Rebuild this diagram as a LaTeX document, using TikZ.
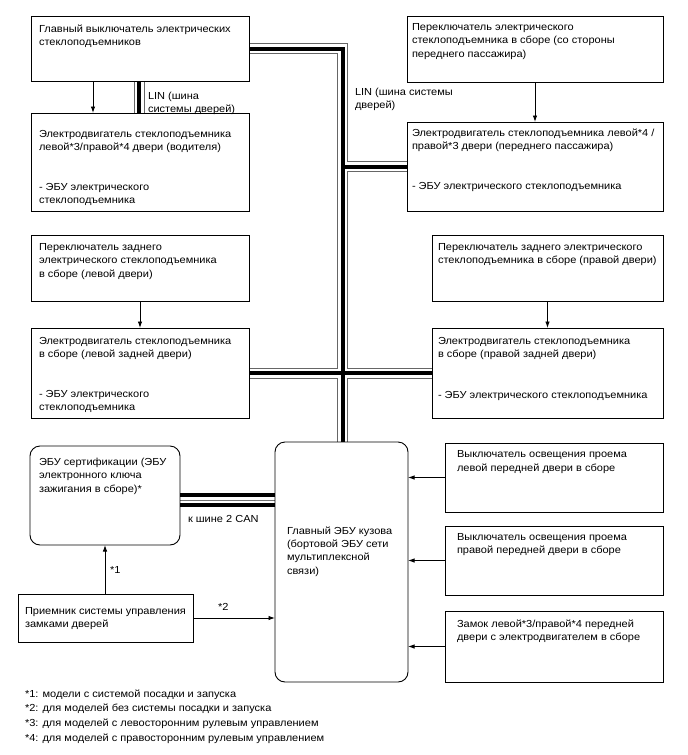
\documentclass[tikz,border=0pt]{standalone}
\usepackage{fontspec}
\setmainfont{Liberation Sans}[FakeStretch=1.08]
\usetikzlibrary{arrows.meta,backgrounds}
\begin{document}
\begin{tikzpicture}[x=1pt,y=-1pt,
  box/.style={draw, line width=0.9pt, inner sep=0pt, outer sep=0pt, anchor=north west},
  rbox/.style={box, rounded corners=10pt},
  txt/.style={anchor=north west, inner sep=0pt, outer sep=0pt, align=left,
    font=\fontsize{10.2}{13.3}\selectfont},
  arr/.style={line width=0.9pt, -{Latex[length=6.5pt,width=4.5pt]}},
  linout/.style={line width=11pt, black!60},
  linwhite/.style={line width=9pt, white},
  lincore/.style={line width=4pt, black},
  canout/.style={line width=13.5pt, black},
  canwhite/.style={line width=6.5pt, white},
  cancore/.style={line width=1pt, black!55},
]
\useasboundingbox (0,0) rectangle (688,755);

% boxes
\node[box, minimum width=218pt, minimum height=65pt] (B1) at (31,16) {};
\node[box, minimum width=218pt, minimum height=98pt] (B2) at (31,113) {};
\node[box, minimum width=256pt, minimum height=66pt] (B3) at (407,16) {};
\node[box, minimum width=256pt, minimum height=89pt] (B4) at (407,122) {};
\node[box, minimum width=218pt, minimum height=66pt] (B5) at (31,235) {};
\node[box, minimum width=218pt, minimum height=90pt] (B6) at (31,328) {};
\node[box, minimum width=231pt, minimum height=66pt] (B7) at (432,235) {};
\node[box, minimum width=231pt, minimum height=90pt] (B8) at (432,328) {};
\node[rbox, minimum width=150pt, minimum height=99pt] (C) at (30,446) {};
\node[rbox, minimum width=133pt, minimum height=240pt] (M) at (275,442) {};
\node[box, minimum width=175pt, minimum height=48pt] (R) at (18,594) {};
\node[box, minimum width=218pt, minimum height=69pt] (DL) at (445,443) {};
\node[box, minimum width=218pt, minimum height=69pt] (DR) at (445,526) {};
\node[box, minimum width=218pt, minimum height=71pt] (LK) at (445,611) {};

\coordinate (J1) at (342.5,48.5);

% buses
\newcommand\linbus[1]{%
  \draw[#1] ([xshift=-1pt]B1.south) -- ([xshift=-1pt]B2.north);
  \draw[#1] (B1.east) -- (J1) -- (J1 |- M.north);
  \draw[#1] (J1 |- B4.west) -- (B4.west);
  \draw[#1] (B6.east) -- (B8.west);
}
\begin{scope}[on background layer]
  \fill[white] (0,0) rectangle (688,755);
  \linbus{linout}
  \linbus{linwhite}
  \linbus{lincore}
  \draw[canout] ([yshift=-4.5pt]C.east) -- ([yshift=-4.5pt]C.east -| M.west);
  \draw[canwhite] ([yshift=-4.5pt]C.east) -- ([yshift=-4.5pt]C.east -| M.west);
  \draw[cancore] ([yshift=-4.5pt]C.east) -- ([yshift=-4.5pt]C.east -| M.west);
\end{scope}

% arrows
\draw[arr] ([xshift=62pt]B1.south west) -- ([xshift=62pt]B2.north west);
\draw[arr] (B3.south) -- (B4.north);
\draw[arr] (B5.south) -- (B6.north);
\draw[arr] (B7.south) -- (B8.north);
\draw[arr] (R.north -| C.south) -- (C.south);
\draw[arr] (R.east) -- (R.east -| M.west);
\draw[arr] (DL.west) -- (DL.west -| M.east);
\draw[arr] (DR.west) -- (DR.west -| M.east);
\draw[arr] (LK.west) -- (LK.west -| M.east);

% texts
\node[txt] (t1) at (39,24.5) {Главный выключатель электрических\\стеклоподъемников};
\node[txt] (t2) at (39,130) {Электродвигатель стеклоподъемника\\левой*3/правой*4 двери (водителя)};
\node[txt] (t2b) at (39,183) {- ЭБУ электрического\\стеклоподъемника};
\node[txt] (t3) at (412,23.5) {Переключатель электрического\\стеклоподъемника в сборе (со стороны\\переднего пассажира)};
\node[txt] (t4) at (412,128.5) {Электродвигатель стеклоподъемника левой*4 /\\правой*3 двери (переднего пассажира)};
\node[txt] (t4b) at (412,182) {- ЭБУ электрического стеклоподъемника};
\node[txt] (t5) at (39,243.5) {Переключатель заднего\\электрического стеклоподъемника\\в сборе (левой двери)};
\node[txt] (t6) at (39,337) {Электродвигатель стеклоподъемника\\в сборе (левой задней двери)};
\node[txt] (t6b) at (39,390.5) {- ЭБУ электрического\\стеклоподъемника};
\node[txt] (t7) at (438,243.5) {Переключатель заднего электрического\\стеклоподъемника в сборе (правой двери)};
\node[txt] (t8) at (438,337) {Электродвигатель стеклоподъемника\\в сборе (правой задней двери)};
\node[txt] (t8b) at (438,391) {- ЭБУ электрического стеклоподъемника};
\node[txt] (tc) at (39,458.3) {ЭБУ сертификации (ЭБУ\\электронного ключа\\зажигания в сборе)*};
\node[txt] (tm) at (287,526.7) {Главный ЭБУ кузова\\(бортовой ЭБУ сети\\мультиплексной\\связи)};
\node[txt] (tr) at (25,607.3) {Приемник системы управления\\замками дверей};
\node[txt] (tdl) at (457,450.7) {Выключатель освещения проема\\левой передней двери в сборе};
\node[txt] (tdr) at (457,533.3) {Выключатель освещения проема\\правой передней двери в сборе};
\node[txt] (tlk) at (457,620) {Замок левой*3/правой*4 передней\\двери с электродвигателем в сборе};
\node[txt] (lin1) at (148,91.7) {LIN (шина\\системы дверей)};
\node[txt] (lin2) at (355,88.3) {LIN (шина системы\\дверей)};
\node[txt] (can) at (188,515.7) {к шине 2 CAN};
\node[txt] (s1) at (110,566.7) {*1};
\node[txt] (s2) at (218,603.3) {*2};
\node[txt, font=\fontsize{10.2}{14.8}\selectfont] (fn) at (25,689.5) {*1: модели с системой посадки и запуска\\*2: для моделей без системы посадки и запуска\\*3: для моделей с левосторонним рулевым управлением\\*4: для моделей с правосторонним рулевым управлением};
\end{tikzpicture}
\end{document}
